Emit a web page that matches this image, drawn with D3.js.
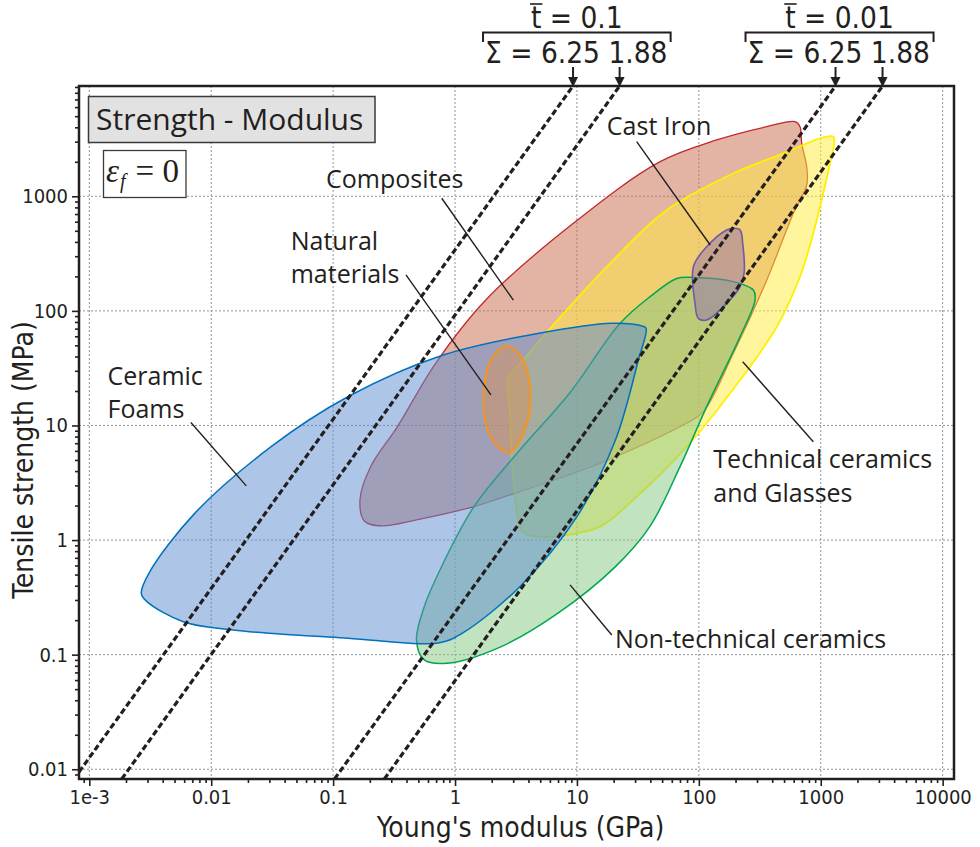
<!DOCTYPE html>
<html>
<head>
<meta charset="utf-8">
<script src="https://cdn.jsdelivr.net/npm/d3@7"></script>
<style>
  body { margin: 0; background: #fff; }
  .tick text { font-family: 'DejaVu Sans Condensed', 'DejaVu Sans'; font-stretch: condensed; }
</style>
</head>
<body>
<div id="chart"></div>
<script>
// ---- data (Young's modulus in GPa, tensile strength in MPa) ----
let xTicks = [1e-3, 0.01, 0.1, 1, 10, 100, 1000, 10000]
let xTickLabels = ['1e-3', '0.01', '0.1', '1', '10', '100', '1000', '10000']
let yTicks = [0.01, 0.1, 1, 10, 100, 1000]
let yTickLabels = ['0.01', '0.1', '1', '10', '100', '1000']

let composites = [[615, 4480], [676, 4050], [698, 2900], [767, 1812], [767, 1255], [596, 711], [361, 186],
    [192, 42.7], [109, 13.2], [79.6, 10.5], [15.5, 4.68], [2.34, 2.32], [1.43, 1.96], [0.483, 1.5],
    [0.252, 1.33], [0.182, 1.45], [0.166, 2.24], [0.203, 4.37], [0.337, 9.77], [0.693, 34.9],
    [1.78, 124], [9.34, 581], [48.1, 2005], [140, 3100], [361, 4050]]
let technicalCeramics = [[1268, 3311], [1294, 2995], [1192, 1941], [869, 475], [676, 199], [436, 72.8],
    [218, 24.9], [79.6, 6.53], [29, 2.24], [15.5, 1.31], [7.52, 1.09], [4.88, 1.07], [3.65, 1.15],
    [3.4, 1.31], [2.94, 4.37], [2.84, 11.9], [2.74, 26.7], [3.41, 34.9], [8.25, 102], [18.7, 260],
    [54.5, 759], [192, 1588], [493, 2372], [1050, 3273]]
let nonTechnicalCeramics = [[65.9, 192], [90.2, 196], [192, 180], [280, 152], [289, 124], [218, 59.6],
    [116, 14.6], [70.1, 4.37], [39.6, 1.31], [20.7, 0.586], [7, 0.23], [2.37, 0.117], [0.861, 0.0841],
    [0.559, 0.0899], [0.483, 0.134], [0.559, 0.262], [0.8, 0.628], [1.43, 1.96], [3.4, 6.11],
    [8.69, 19.1], [22.6, 78], [39.8, 133]]
let ceramicFoams = [[0.00267, 0.343], [0.00297, 0.29], [0.0059, 0.194], [0.0151, 0.164], [0.132, 0.139],
    [0.746, 0.127], [1.15, 0.154], [3.4, 0.392], [10, 1.6], [20.7, 7.47], [31.9, 37.3], [36.9, 70.5],
    [34.2, 73.8], [19.2, 78], [4.88, 63.8], [0.8, 41.2], [0.132, 17.8], [0.031, 6.53], [0.00732, 1.71],
    [0.00308, 0.513]]
let naturalMaterials = [[2.67, 49.4], [3.55, 38.8], [4.16, 18.5], [3.68, 8.78], [2.74, 5.79], [1.97, 7.78],
    [1.71, 16.7], [1.97, 37.3]]
let castIron = [[192, 526], [218, 508], [229, 389], [235, 213], [218, 163], [169, 116], [116, 83.3],
    [99.1, 86.1], [93.1, 116], [90.2, 243], [116, 363], [169, 508]]

// dashed guide lines, [start, end] in (E, sigma)
let guideLines = [
    [[0.000823, 0.00946], [9.29, 9173]],
    [[0.001845, 0.00822], [22.4, 9173]],
    [[0.1026, 0.00822], [1322, 9173]],
    [[0.263, 0.00822], [3213, 9173]]
]
let tbarValues = ['0.1', '0.01']
let sigmaValues = [['6.25', '1.88'], ['6.25', '1.88']]

let labelLines = [['Ceramic', 'Foams'], ['Natural', 'materials'], ['Composites'], ['Cast Iron'],
    ['Technical ceramics', 'and Glasses'], ['Non-technical ceramics']]
let labelAnchors = [[0.00141, 22.6], [0.0449, 340], [0.0875, 1175], [17.6, 3428], [131.5, 4.23], [20.5, 0.1137]]
let leaders = [
    [[0.00681, 10.6], [0.0194, 2.97]],
    [[0.396, 206], [1.97, 18.5]],
    [[0.778, 961], [3.01, 124]],
    [[30.9, 2995], [124, 376]],
    [[229, 36], [869, 7.22]],
    [[8.78, 0.406], [19.3, 0.1486]]
]

// ---- chart ----
let ink = '#231f20'
let pLeft = 79, pRight = 954, pTop = 86, pBottom = 779

let svg = d3.select('#chart')
    .append('svg')
    .attr('width', 980)
    .attr('height', 847)

let x = d3.scaleLog().domain([0.000823, 12390]).range([pLeft, pRight])
let y = d3.scaleLog().domain([0.00822, 9173]).range([pBottom, pTop])

function minorTicks(scale) {
    let [lo, hi] = scale.domain(), out = []
    for (let p = Math.floor(Math.log10(lo)); p <= Math.ceil(Math.log10(hi)); p++) {
        for (let k = 2; k < 10; k++) {
            let v = k * Math.pow(10, p)
            if (v >= lo && v <= hi) out.push(v)
        }
    }
    return out
}

svg.append('clipPath').attr('id', 'plot')
    .append('rect')
    .attr('x', pLeft).attr('y', pTop)
    .attr('width', pRight - pLeft).attr('height', pBottom - pTop)

// grid
let grid = svg.append('g').attr('stroke', '#8e979f').attr('stroke-width', 1).attr('stroke-dasharray', '2,2')
grid.selectAll('.gx').data(xTicks).enter().append('line')
    .attr('x1', d => x(d)).attr('x2', d => x(d))
    .attr('y1', pTop).attr('y2', pBottom)
grid.selectAll('.gy').data(yTicks).enter().append('line')
    .attr('y1', d => y(d)).attr('y2', d => y(d))
    .attr('x1', pLeft).attr('x2', pRight)

// property envelopes
let area = d3.line()
    .x(d => x(d[0]))
    .y(d => y(d[1]))
    .curve(d3.curveCatmullRomClosed.alpha(0.5))

let envelopes = [
    { pts: composites, fill: '#c8684a', stroke: '#c1272d', w: 1.3 },
    { pts: technicalCeramics, fill: '#ffeb3b', stroke: '#fff000', w: 1.8 },
    { pts: nonTechnicalCeramics, fill: '#85c780', stroke: '#00a651', w: 1.5 },
    { pts: ceramicFoams, fill: '#5b8bd0', stroke: '#0072bc', w: 1.5 },
    { pts: naturalMaterials, fill: '#d59259', stroke: '#f7941d', w: 2 },
    { pts: castIron, fill: '#9571b0', stroke: '#6d5aa8', w: 1.6 }
]
svg.append('g')
    .attr('clip-path', 'url(#plot)')
    .selectAll('path')
    .data(envelopes)
    .enter()
    .append('path')
    .attr('d', d => area(d.pts))
    .attr('fill', d => d.fill)
    .attr('fill-opacity', 0.5)
    .attr('stroke', d => d.stroke)
    .attr('stroke-width', d => d.w)

// dashed guide lines
svg.append('g')
    .attr('clip-path', 'url(#plot)')
    .selectAll('line')
    .data(guideLines)
    .enter()
    .append('line')
    .attr('x1', d => x(d[0][0])).attr('y1', d => y(d[0][1]))
    .attr('x2', d => x(d[1][0])).attr('y2', d => y(d[1][1]))
    .attr('stroke', ink)
    .attr('stroke-width', 3.2)
    .attr('stroke-dasharray', '6,3')

// leaders + labels
svg.append('g')
    .selectAll('line')
    .data(leaders)
    .enter()
    .append('line')
    .attr('x1', d => x(d[0][0])).attr('y1', d => y(d[0][1]))
    .attr('x2', d => x(d[1][0])).attr('y2', d => y(d[1][1]))
    .attr('stroke', ink)
    .attr('stroke-width', 1.4)

let labels = svg.append('g')
    .attr('font-family', "'Open Sans', 'Noto Sans'")
    .attr('font-size', 25)
    .attr('fill', ink)
    .selectAll('text')
    .data(labelLines)
    .enter()
    .append('text')
    .attr('x', (d, i) => x(labelAnchors[i][0]))
    .attr('y', (d, i) => y(labelAnchors[i][1]))
labels.selectAll('tspan')
    .data(d => d)
    .enter()
    .append('tspan')
    .attr('x', function () { return this.parentNode.getAttribute('x') })
    .attr('dy', (d, i) => i ? 33.5 : 0)
    .text(d => d)

// title box
svg.append('rect')
    .attr('x', 88.5).attr('y', 96.5).attr('width', 286.5).attr('height', 46)
    .attr('fill', '#e2e2e2').attr('stroke', '#3a3a3a').attr('stroke-width', 1.5)
svg.append('text')
    .attr('x', 96).attr('y', 130)
    .attr('font-family', "'Open Sans', 'Noto Sans'")
    .attr('font-size', 30)
    .attr('fill', ink)
    .text('Strength - Modulus')

svg.append('rect')
    .attr('x', 103.5).attr('y', 150.5).attr('width', 82.5).attr('height', 47)
    .attr('fill', '#fff').attr('stroke', '#3a3a3a').attr('stroke-width', 1.3)
let eps = svg.append('text')
    .attr('x', 106).attr('y', 182)
    .attr('font-family', "'Liberation Serif', 'DejaVu Serif'")
    .attr('font-size', 33)
    .attr('fill', ink)
eps.append('tspan').attr('font-style', 'italic').text('ε')
eps.append('tspan').attr('font-style', 'italic').attr('font-size', 20).attr('dx', 1).attr('dy', 6).text('f')
eps.append('tspan').attr('dx', 10).attr('dy', -6).text('= 0')

// frame
svg.append('rect')
    .attr('x', pLeft).attr('y', pTop)
    .attr('width', pRight - pLeft).attr('height', pBottom - pTop)
    .attr('fill', 'none')
    .attr('stroke', ink)
    .attr('stroke-width', 2.5)

// axes
let xMinor = d3.axisBottom(x).tickValues(minorTicks(x)).tickSize(4).tickFormat('')
let xMajor = d3.axisBottom(x).tickValues(xTicks).tickSize(7).tickPadding(4)
    .tickFormat((d, i) => xTickLabels[i])
let yMinor = d3.axisLeft(y).tickValues(minorTicks(y)).tickSize(4).tickFormat('')
let yMajor = d3.axisLeft(y).tickValues(yTicks).tickSize(7).tickPadding(4)
    .tickFormat((d, i) => yTickLabels[i])

let axes = [
    svg.append('g').attr('transform', `translate(0,${pBottom})`).call(xMinor),
    svg.append('g').attr('transform', `translate(0,${pBottom})`).call(xMajor),
    svg.append('g').attr('transform', `translate(${pLeft},0)`).call(yMinor),
    svg.append('g').attr('transform', `translate(${pLeft},0)`).call(yMajor)
]
axes.forEach(g => {
    g.select('.domain').remove()
    g.selectAll('line').attr('stroke', ink).attr('stroke-width', 1.6)
    g.selectAll('text').attr('font-size', 20).attr('fill', ink)
})

svg.append('text')
    .attr('x', (pLeft + pRight) / 2 + 4).attr('y', 837)
    .attr('text-anchor', 'middle')
    .attr('font-family', "'DejaVu Sans Condensed', 'DejaVu Sans'")
    .attr('font-size', 28)
    .attr('fill', ink)
    .text("Young's modulus (GPa)")
svg.append('text')
    .attr('transform', 'translate(33,460) rotate(-90)')
    .attr('text-anchor', 'middle')
    .attr('font-family', "'DejaVu Sans Condensed', 'DejaVu Sans'")
    .attr('font-size', 28)
    .attr('fill', ink)
    .text('Tensile strength (MPa)')

// top annotations: t-bar / sigma brackets with arrows to the guide lines
let note = svg.append('g').attr('fill', ink).attr('stroke', ink)
    .attr('font-family', "'DejaVu Sans Condensed', 'DejaVu Sans'")
    .attr('font-size', 29.5)

d3.range(2).forEach(k => {
    let a1 = x(guideLines[2 * k][1][0]),
        a2 = x(guideLines[2 * k + 1][1][0])
    let bl = a1 - 90, br = a2 + 51

    let t = note.append('text')
        .attr('x', (bl + br) / 2).attr('y', 28)
        .attr('text-anchor', 'middle')
        .attr('stroke', 'none')
        .text('t = ' + tbarValues[k])
    let s0 = t.node().getStartPositionOfChar(0).x,
        s1 = t.node().getEndPositionOfChar(0).x
    note.append('line')
        .attr('x1', s0 - 1).attr('x2', s1 + 1)
        .attr('y1', 4).attr('y2', 4)
        .attr('stroke-width', 1.6)

    note.append('path')
        .attr('d', `M${bl},42V32.5H${br}V42`)
        .attr('fill', 'none')
        .attr('stroke-width', 2)

    note.append('text')
        .attr('x', a1 - 88).attr('y', 63)
        .attr('stroke', 'none')
        .text('Σ = ' + sigmaValues[k][0] + ' ' + sigmaValues[k][1])

    ;[a1, a2].forEach(ax => {
        note.append('line')
            .attr('x1', ax).attr('x2', ax)
            .attr('y1', 67).attr('y2', 79)
            .attr('stroke-width', 2)
        note.append('path')
            .attr('d', `M${ax - 5},77L${ax + 5},77L${ax},87Z`)
            .attr('stroke', 'none')
    })
})
</script>
</body>
</html>
